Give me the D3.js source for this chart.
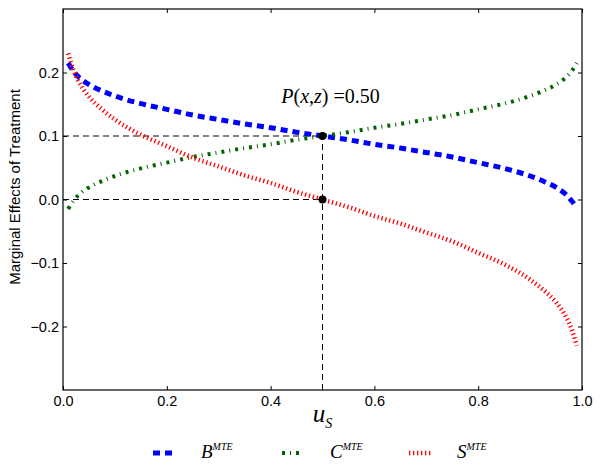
<html>
<head>
<meta charset="utf-8">
<script src="https://cdn.jsdelivr.net/npm/d3@7"></script>
<style>
body { margin: 0; background: #fff; }
svg { display: block; }
.tick text { font-family: "Liberation Sans", Arial, sans-serif; font-size: 14.5px; fill: #000; }
.math { font-family: "Liberation Serif", "DejaVu Serif", serif; }
</style>
</head>
<body>
<script>
// values
var uVals = [0.01, 0.02, 0.03, 0.05, 0.075, 0.1, 0.15, 0.2, 0.25, 0.3, 0.35, 0.4, 0.45, 0.5,
             0.55, 0.6, 0.65, 0.7, 0.75, 0.8, 0.85, 0.9, 0.925, 0.95, 0.97, 0.98, 0.99];
var bVals = [0.215, 0.202, 0.193, 0.181, 0.171, 0.163, 0.151, 0.142, 0.133, 0.126, 0.119, 0.113, 0.106, 0.100,
             0.094, 0.087, 0.081, 0.074, 0.067, 0.058, 0.049, 0.037, 0.029, 0.019, 0.007, -0.002, -0.013];
var cVals = [-0.015, -0.002, 0.007, 0.019, 0.029, 0.037, 0.049, 0.058, 0.067, 0.074, 0.081, 0.087, 0.094, 0.100,
             0.106, 0.113, 0.119, 0.126, 0.133, 0.142, 0.151, 0.163, 0.171, 0.181, 0.193, 0.202, 0.215];
var sVals = [0.230, 0.204, 0.186, 0.162, 0.142, 0.126, 0.102, 0.084, 0.066, 0.052, 0.038, 0.026, 0.012, 0.000,
             -0.012, -0.026, -0.038, -0.052, -0.066, -0.084, -0.102, -0.126, -0.142, -0.162, -0.186, -0.204, -0.230];
var xTicks = [0, 0.2, 0.4, 0.6, 0.8, 1.0];
var yTicks = [-0.2, -0.1, 0.0, 0.1, 0.2];
var pValue = 0.5;
var markPoints = [[0.5, 0.1], [0.5, 0.0]];

var width = 602, height = 468;
var mLeft = 63, mTop = 9, plotW = 519, plotH = 381;

var svg = d3.select("body").append("svg")
    .attr("width", width)
    .attr("height", height);

var x = d3.scaleLinear().domain([0, 1]).range([mLeft, mLeft + plotW]);
var y = d3.scaleLinear().domain([-0.3, 0.3]).range([mTop + plotH, mTop]);

var fmt = function(d) { return d3.format(".1f")(d).replace("-", "\u2212"); };

// reference dashed lines
var refs = svg.append("g")
    .attr("stroke", "#000")
    .attr("stroke-width", 1)
    .attr("stroke-dasharray", "6,4")
    .attr("fill", "none");
markPoints.forEach(function(p) {
    refs.append("line")
        .attr("x1", x(0)).attr("x2", x(p[0]))
        .attr("y1", y(p[1])).attr("y2", y(p[1]));
});
refs.append("line")
    .attr("x1", x(pValue)).attr("x2", x(pValue))
    .attr("y1", y(-0.3)).attr("y2", y(0.1));

var series = [
    { vals: bVals, color: "#0000ff", w: 5, dash: "7,5" },
    { vals: cVals, color: "#006400", w: 4, dash: "3,5,1,5" },
    { vals: sVals, color: "#ff0000", w: 4.5, dash: "1.3,2.7" }
];

var line = d3.line()
    .x(function(d) { return x(d[0]); })
    .y(function(d) { return y(d[1]); })
    .curve(d3.curveMonotoneX);

series.forEach(function(s) {
    svg.append("path")
        .datum(uVals.map(function(u, i) { return [u, s.vals[i]]; }))
        .attr("d", line)
        .attr("fill", "none")
        .attr("stroke", s.color)
        .attr("stroke-width", s.w)
        .attr("stroke-dasharray", s.dash);
});

svg.selectAll("circle.mark")
    .data(markPoints)
    .enter().append("circle")
    .attr("class", "mark")
    .attr("cx", function(d) { return x(d[0]); })
    .attr("cy", function(d) { return y(d[1]); })
    .attr("r", 4)
    .attr("fill", "#000");

// axes, ticks inward on all four sides
svg.append("g")
    .attr("transform", "translate(0," + (mTop + plotH) + ")")
    .call(d3.axisBottom(x).tickValues(xTicks).tickFormat(fmt).tickSizeInner(-4).tickSizeOuter(0).tickPadding(6))
    .call(function(g) { g.select(".domain").remove(); });
svg.append("g")
    .attr("transform", "translate(0," + mTop + ")")
    .call(d3.axisTop(x).tickValues(xTicks).tickFormat("").tickSizeInner(-4).tickSizeOuter(0))
    .call(function(g) { g.select(".domain").remove(); });
svg.append("g")
    .attr("transform", "translate(" + mLeft + ",0)")
    .call(d3.axisLeft(y).tickValues(yTicks).tickFormat(fmt).tickSizeInner(-4).tickSizeOuter(0).tickPadding(4))
    .call(function(g) { g.select(".domain").remove(); });
svg.append("g")
    .attr("transform", "translate(" + (mLeft + plotW) + ",0)")
    .call(d3.axisRight(y).tickValues(yTicks).tickFormat("").tickSizeInner(-4).tickSizeOuter(0))
    .call(function(g) { g.select(".domain").remove(); });

svg.append("rect")
    .attr("x", mLeft).attr("y", mTop)
    .attr("width", plotW).attr("height", plotH)
    .attr("fill", "none")
    .attr("stroke", "#000")
    .attr("stroke-width", 1.2);

// labels
svg.append("text")
    .attr("transform", "translate(16,187) rotate(-90)")
    .attr("text-anchor", "middle")
    .attr("dominant-baseline", "middle")
    .style("font-family", "Liberation Sans, Arial, sans-serif")
    .style("font-size", "15px")
    .text("Marginal Effects of Treatment");

var xl = svg.append("text")
    .attr("class", "math")
    .attr("x", x(0.5))
    .attr("y", 422)
    .attr("text-anchor", "middle");
xl.append("tspan").style("font-style", "italic").style("font-size", "25px").text("u");
xl.append("tspan").style("font-style", "italic").style("font-size", "14px").attr("dy", 6).text("S");

var ann = svg.append("text")
    .attr("class", "math")
    .attr("x", x(0.5) + 8)
    .attr("y", 103)
    .attr("text-anchor", "middle")
    .style("font-size", "20px");
ann.append("tspan").style("font-style", "italic").text("P");
ann.append("tspan").text("(");
ann.append("tspan").style("font-style", "italic").text("x");
ann.append("tspan").text(",");
ann.append("tspan").style("font-style", "italic").text("z");
ann.append("tspan").text(") =" + d3.format(".2f")(pValue));

// legend
var legendItems = [
    { name: "B", x: 153, color: "#0000ff", w: 5, dash: "7,5", len: 21 },
    { name: "C", x: 282, color: "#006400", w: 4, dash: "3,5,1,5", len: 21 },
    { name: "S", x: 409, color: "#ff0000", w: 4.5, dash: "1.3,2.7", len: 24 }
];
legendItems.forEach(function(it) {
    svg.append("line")
        .attr("x1", it.x).attr("x2", it.x + it.len)
        .attr("y1", 453).attr("y2", 453)
        .attr("stroke", it.color)
        .attr("stroke-width", it.w)
        .attr("stroke-dasharray", it.dash);
    var t = svg.append("text")
        .attr("class", "math")
        .attr("x", it.x + 48)
        .attr("y", 458);
    t.append("tspan").style("font-style", "italic").style("font-size", "19px").text(it.name);
    t.append("tspan").style("font-style", "italic").style("font-size", "10px").attr("dy", -8).text("MTE");
});
</script>
</body>
</html>
